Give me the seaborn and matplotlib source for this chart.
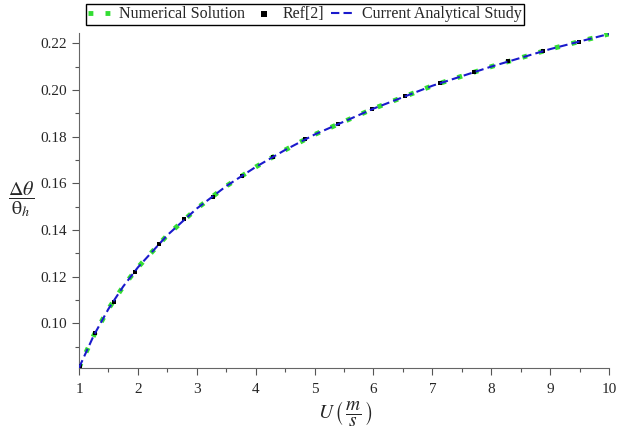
import matplotlib
matplotlib.use("Agg")
import matplotlib.pyplot as plt
import pandas as pd
import seaborn as sns
from matplotlib.ticker import MultipleLocator

# velocity U (m/s) and dimensionless temperature difference
u_curve = [1.0, 1.25, 1.5, 1.75, 2.0, 2.5, 3.0, 3.5, 4.0, 4.5, 5.0, 6.0, 7.0, 8.0, 9.0, 10.0]
analytical = [0.0810, 0.0948, 0.1062, 0.1158, 0.1240, 0.1378, 0.1492, 0.1588, 0.1670,
              0.1743, 0.1809, 0.1920, 0.2018, 0.2100, 0.2175, 0.2240]
numerical = [0.0810, 0.0948, 0.1062, 0.1158, 0.1240, 0.1378, 0.1492, 0.1588, 0.1670,
             0.1743, 0.1809, 0.1920, 0.2018, 0.2100, 0.2175, 0.2240]

u_ref = [1.02, 1.28, 1.59, 1.95, 2.36, 2.79, 3.27, 3.77, 4.30, 4.84, 5.39, 5.97,
         6.54, 7.13, 7.71, 8.29, 8.88, 9.49]
ref2 = [0.0818, 0.0960, 0.1093, 0.1221, 0.1339, 0.1446, 0.1543, 0.1631, 0.1714,
        0.1789, 0.1853, 0.1918, 0.1975, 0.2029, 0.2077, 0.2124, 0.2167, 0.2207]

curve_df = pd.DataFrame({"U": u_curve, "num": numerical, "ana": analytical})
ref_df = pd.DataFrame({"U": u_ref, "ref": ref2})

sns.set_style("ticks")
plt.rcParams["font.family"] = ["Liberation Serif", "DejaVu Serif"]
plt.rcParams["mathtext.fontset"] = "stix"

fig = plt.figure(figsize=(6.18, 4.34), dpi=100)
ax = fig.add_axes([79 / 618, 1 - 368 / 434, 530 / 618, 335 / 434])

sns.lineplot(data=curve_df, x="U", y="num", ax=ax, color="#33dd33",
             linestyle=(0, (1, 2.5)), linewidth=3.5, label="Numerical Solution")
sns.scatterplot(data=ref_df, x="U", y="ref", ax=ax, color="black", marker="s",
                s=9, linewidth=0, label="Ref[2]", zorder=3)
sns.lineplot(data=curve_df, x="U", y="ana", ax=ax, color="#1a1acc",
             linestyle=(0, (4, 2)), linewidth=1.5, label="Current Analytical Study", zorder=4)

ax.set_xlim(1, 10)
ax.set_ylim(0.0809, 0.2244)
ax.xaxis.set_major_locator(MultipleLocator(1))
ax.xaxis.set_minor_locator(MultipleLocator(0.5))
ax.yaxis.set_major_locator(MultipleLocator(0.02))
ax.yaxis.set_minor_locator(MultipleLocator(0.01))
ax.yaxis.set_major_formatter(lambda v, p: f"{v:.2f}")
ax.tick_params(which="major", direction="out", length=5, width=0.8, labelsize=11,
               color="#555555")
ax.tick_params(which="minor", direction="out", length=3, width=0.8, color="#555555")
ax.tick_params(axis="x", pad=6)
sns.despine(ax=ax)
for s in ("left", "bottom"):
    ax.spines[s].set_color("#666666")
ax.set_xlabel("")
ax.set_ylabel("")

fig.text(345 / 618, 1 - 413 / 434, r"$U\,\left(\,\dfrac{m}{s}\,\right)$", ha="center",
         va="center", fontsize=14)
fig.text(21 / 618, 1 - 199 / 434, r"$\dfrac{\mathit{\Delta\theta}}{\mathrm{\theta}_h}$",
         ha="center", va="center", fontsize=14.5)

handles, labels = ax.get_legend_handles_labels()
ax.get_legend().remove()
fig.legend(handles, labels, ncol=3, loc="upper center",
           bbox_to_anchor=(305 / 618, 1 - 4 / 434), frameon=True, fancybox=False,
           edgecolor="black", fontsize=11.5, handlelength=1.5, handletextpad=0.45,
           columnspacing=0.4, borderpad=0.15, borderaxespad=0, framealpha=1,
           markerscale=1.3)

fig.savefig("out.png", dpi=100)
